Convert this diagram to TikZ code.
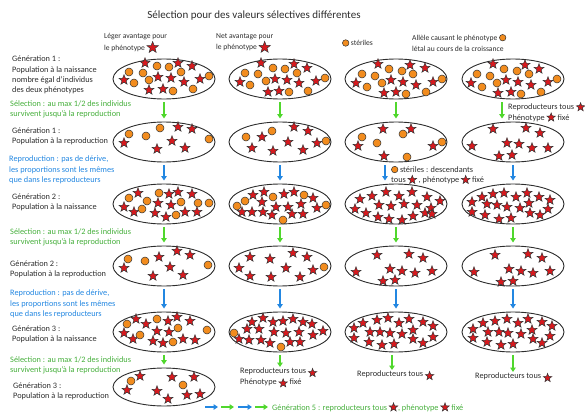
\documentclass[tikz,border=0pt]{standalone}
\usepackage{fontspec}
\setmainfont{Carlito}
\usetikzlibrary{arrows.meta, positioning, shapes.geometric}
\definecolor{starred}{RGB}{215,25,30}
\definecolor{dotorange}{RGB}{242,140,30}
\definecolor{selgreen}{RGB}{80,215,45}
\definecolor{seltext}{RGB}{70,175,60}
\definecolor{repblue}{RGB}{35,135,225}
\definecolor{ink}{RGB}{45,45,45}

\tikzset{
  pop/.style={ellipse, draw=ink, line width=0.9pt, minimum width=102pt, minimum height=40pt, inner sep=0pt},
  indstar/.style={star, star points=5, star point ratio=2.4, fill=starred, draw=black!80, line width=0.5pt, minimum size=10.5pt, inner sep=0pt},
  inddot/.style={circle, fill=dotorange, draw=black!80, line width=0.5pt, minimum size=8pt, inner sep=0pt},
  selarrow/.style={draw=selgreen, line width=1.2pt, -{Triangle[length=4.5pt,width=5.5pt]}, shorten <=3pt, shorten >=3pt},
  reparrow/.style={draw=repblue, line width=1.2pt, -{Triangle[length=4.5pt,width=5.5pt]}, shorten <=3pt, shorten >=3pt},
  lbl/.style={font=\fontsize{8.3}{10.3}\selectfont, text=ink, align=left, anchor=west, inner sep=0pt},
  head/.style={lbl, font=\fontsize{7.6}{11.5}\selectfont},
}
\newcommand{\etoile}[1][9pt]{\tikz[baseline=-0.7ex]\node[indstar, minimum size=#1]{};}
\newcommand{\pastille}{\tikz[baseline=-0.7ex]\node[inddot, minimum size=6.5pt]{};}
\newcommand{\popstars}[2]{\foreach \x/\y [count=\k] in {#2} {\node[indstar] (#1s\k) at (\x,\y) {};}}
\newcommand{\popdots}[2]{\foreach \x/\y [count=\k] in {#2} {\node[inddot] (#1d\k) at (\x,\y) {};}}

\begin{document}
\begin{tikzpicture}[x=1pt, y=-1pt]
  \useasboundingbox (0,0) rectangle (585,417);
  \node[font=\fontsize{11}{13}\selectfont, text=ink] (title) at (254,16) {Sélection pour des valeurs sélectives différentes};

  % column headers
  \node[head] (h1) at (104,43) {Léger avantage pour\\le phénotype \etoile[12pt]};
  \node[head] (h2) at (216,43) {Net avantage pour\\le phénotype \etoile[12pt]};
  \node[head] (h3) at (342,43) {\pastille\ stériles};
  \node[head] (h4) at (412,43) {Allèle causant le phénotype \pastille\\létal au cours de la croissance};

  % left column texts
  \node[lbl] (t1) at (12,75) {Génération 1 :\\Population à la naissance\\nombre égal d'individus\\des deux phénotypes};
  \node[lbl, text=seltext] (s1) at (10,109) {Sélection : au max 1/2 des individus\\survivent jusqu'à la reproduction};
  \node[lbl] (t2) at (12,136) {Génération 1 :\\Population à la reproduction};
  \node[lbl, text=repblue] (r1) at (9,170) {Reproduction : pas de dérive,\\les proportions sont les mêmes\\que dans les reproducteurs};
  \node[lbl] (t3) at (12,202) {Génération 2 :\\Population à la naissance};
  \node[lbl, text=seltext] (s2) at (10,237) {Sélection : au max 1/2 des individus\\survivent jusqu'à la reproduction};
  \node[lbl] (t4) at (10,269) {Génération 2 :\\Population à la reproduction};
  \node[lbl, text=repblue] (r2) at (10,304) {Reproduction : pas de dérive,\\les proportions sont les mêmes\\que dans les reproducteurs};
  \node[lbl] (t5) at (12,334) {Génération 3 :\\Population à la naissance};
  \node[lbl, text=seltext] (s3) at (10,365) {Sélection : au max 1/2 des individus\\survivent jusqu'à la reproduction};
  \node[lbl] (t6) at (13,391) {Génération 3 :\\Population à la reproduction};

  % populations
  \foreach \c/\px in {1/164, 2/280, 3/396, 4/513}
    \foreach \r/\py in {1/79, 2/142, 3/204, 4/266, 5/332}
      \node[pop] (c\c r\r) at (\px,\py) {};
  \node[pop, minimum height=38pt] (c1r6) at (164,387) {};

  % column 1: slight advantage
  \popstars{c1r1}{145/63, 178/63, 192/66, 124/80, 158/77, 171/78, 184/82, 200/79, 149/90, 163/89}
  \popdots{c1r1}{157/66, 169/67, 181/72, 129/72, 143/73, 134/83, 149/80, 173/91, 193/89, 209/76}
  \popstars{c1r2}{178/127, 192/129, 124/143, 172/141, 157/149, 185/148}
  \popdots{c1r2}{129/134, 146/136, 160/128, 209/139}
  \popstars{c1r3}{138/193, 169/194, 178/192, 192/194, 124/207, 158/203, 171/205, 134/212, 155/213, 166/217, 185/212, 197/212}
  \popdots{c1r3}{129/198, 147/201, 159/193, 181/202, 198/203, 209/203, 142/209, 176/215}
  \popstars{c1r4}{159/257, 177/251, 190/255, 124/268, 170/267, 153/276, 183/275}
  \popdots{c1r4}{128/259, 145/261, 208/265}
  \popstars{c1r5}{136/319, 146/324, 168/321, 177/317, 190/321, 124/333, 157/331, 169/332, 133/339, 153/341, 163/343, 183/339, 195/340}
  \popdots{c1r5}{127/324, 157/319, 178/328, 140/335, 173/342, 207/330}
  \popstars{c1r6}{140/376, 127/390, 172/377, 194/377, 157/391, 168/399, 187/395, 200/394}
  \popdots{c1r6}{131/381, 183/385}

  % column 2: clear advantage
  \popstars{c2r1}{261/63, 294/64, 307/68, 240/82, 275/79, 287/80, 299/83, 316/81, 268/92, 279/91}
  \popdots{c2r1}{245/73, 258/74, 273/68, 285/69, 297/73, 250/85, 266/81, 289/92, 308/91, 325/78}
  \popstars{c2r2}{294/127, 308/131, 262/137, 288/142, 252/148, 273/151, 303/150, 317/143}
  \popdots{c2r2}{272/131, 246/137, 326/141}
  \popstars{c2r3}{253/195, 264/192, 284/194, 294/192, 313/198, 262/202, 276/207, 288/207, 301/204, 242/212, 252/212, 263/212, 272/215, 292/214, 303/214, 317/208}
  \popdots{c2r3}{245/201, 237/206, 273/197, 304/195, 326/205, 283/220}
  \popstars{c2r4}{250/257, 270/259, 293/253, 307/257, 239/268, 286/268, 313/270, 250/276, 271/277, 300/277}
  \popdots{c2r4}{324/267}
  \popstars{c2r5}{252/322, 263/318, 273/322, 283/321, 293/319, 303/322, 312/324, 247/329, 259/329, 274/332, 286/333, 299/332, 313/335, 323/331, 239/339, 249/340, 261/340, 270/343, 290/342, 300/342}
  \popdots{c2r5}{234/333, 281/347}

  % column 3: sterile
  \popstars{c3r1}{378/64, 410/65, 425/68, 356/83, 391/80, 403/82, 416/85, 433/82, 384/93, 396/92}
  \popdots{c3r1}{362/74, 375/76, 389/69, 402/71, 413/74, 367/87, 382/83, 406/94, 426/92, 442/79}
  \popstars{c3r2}{383/129, 411/129, 358/146, 433/146, 384/156}
  \popdots{c3r2}{362/137, 377/143, 403/134, 442/142, 407/157}
  \popstars{c3r3}{360/199, 372/196, 386/192, 399/196, 412/192, 427/197, 440/201, 355/209, 379/205, 391/206, 404/204, 417/205, 431/208, 366/213, 378/217, 389/219, 402/220, 413/216, 425/213, 432/214}
  \popstars{c3r4}{377/255, 409/254, 423/258, 356/272, 390/269, 402/271, 415/273, 432/271, 383/281, 395/280}
  \popstars{c3r5}{354/328, 363/323, 377/320, 388/318, 399/323, 409/319, 423/322, 433/326, 370/332, 380/332, 390/333, 402/334, 413/330, 354/338, 369/342, 382/345, 394/344, 413/339, 423/343, 433/337}

  % column 4: lethal
  \popstars{c4r1}{493/64, 525/65, 539/69, 471/83, 506/80, 518/82, 531/85, 548/82, 498/93, 511/92}
  \popdots{c4r1}{477/74, 490/76, 504/69, 517/71, 529/74, 482/87, 497/83, 521/94, 541/92, 557/79}
  \popstars{c4r2}{493/129, 526/128, 540/133, 472/146, 507/143, 519/144, 532/148, 548/148, 499/156, 512/155}
  \popstars{c4r3}{472/202, 482/197, 493/194, 504/193, 516/197, 527/193, 539/197, 550/200, 487/204, 497/205, 507/207, 520/208, 529/203, 472/212, 485/215, 499/219, 511/218, 530/213, 540/215, 548/209}
  \popstars{c4r4}{495/255, 528/254, 542/258, 474/272, 509/269, 521/271, 533/273, 550/271, 501/282, 513/281}
  \popstars{c4r5}{473/329, 483/323, 495/321, 507/319, 518/323, 528/319, 542/322, 552/326, 488/332, 499/332, 508/333, 521/334, 532/330, 473/338, 487/342, 501/345, 513/344, 533/339, 542/343, 550/336}

  % selection and reproduction arrows
  \foreach \c in {1,2,3} {
    \draw[selarrow] (c\c r1) -- (c\c r2);
    \draw[selarrow] (c\c r3) -- (c\c r4);
  }
  \draw[selarrow] ([xshift=-11pt]c4r1.south) -- ([xshift=-11pt]c4r2.north);
  \draw[selarrow] (c4r3) -- (c4r4);
  \draw[selarrow] (c1r5) -- (c1r6);
  \foreach \c in {1,2,4} \draw[reparrow] (c\c r2) -- (c\c r3);
  \draw[reparrow] ([xshift=-11pt]c3r2.south) -- ([xshift=-11pt]c3r3.north);
  \foreach \c in {1,2,3,4} \draw[reparrow] (c\c r4) -- (c\c r5);

  % side notes
  \node[lbl] (n4) at (508,112) {Reproducteurs tous \etoile\\Phénotype \etoile\ fixé};
  \node[lbl] (n3) at (391,175) {\pastille\ stériles : descendants\\tous \etoile\ , phénotype \etoile\ fixé};

  % final generations
  \node[lbl, anchor=north west] (f2) at (240,368) {Reproducteurs tous \etoile\\Phénotype \etoile\ fixé};
  \node[lbl, anchor=north west] (f3) at (357,371) {Reproducteurs tous \etoile};
  \node[lbl, anchor=north west] (f4) at (475,373) {Reproducteurs tous \etoile};
  \draw[selarrow, shorten >=1pt] (c2r5) -- (c2r5 |- f2.north);
  \draw[selarrow, shorten >=1pt] ([xshift=-4pt]c3r5.south) -- ([xshift=-4pt]c3r5.south |- f3.north);
  \draw[selarrow, shorten >=1pt] (c4r5) -- (c4r5 |- f4.north);

  % generation 5
  \coordinate (g0) at (205,407);
  \coordinate (g1) at (218,407);
  \coordinate (g2) at (221,407);
  \coordinate (g3) at (234,407);
  \coordinate (g4) at (238,407);
  \coordinate (g5) at (252,407);
  \coordinate (g6) at (255,407);
  \coordinate (g7) at (268,407);
  \draw[reparrow, shorten <=0pt, shorten >=0pt] (g0) -- (g1);
  \draw[selarrow, shorten <=0pt, shorten >=0pt] (g2) -- (g3);
  \draw[reparrow, shorten <=0pt, shorten >=0pt] (g4) -- (g5);
  \draw[selarrow, shorten <=0pt, shorten >=0pt] (g6) -- (g7);
  \node[lbl, text=seltext] (g5txt) at (272,407) {Génération 5 : reproducteurs tous \etoile, phénotype \etoile\ fixé};
\end{tikzpicture}
\end{document}
